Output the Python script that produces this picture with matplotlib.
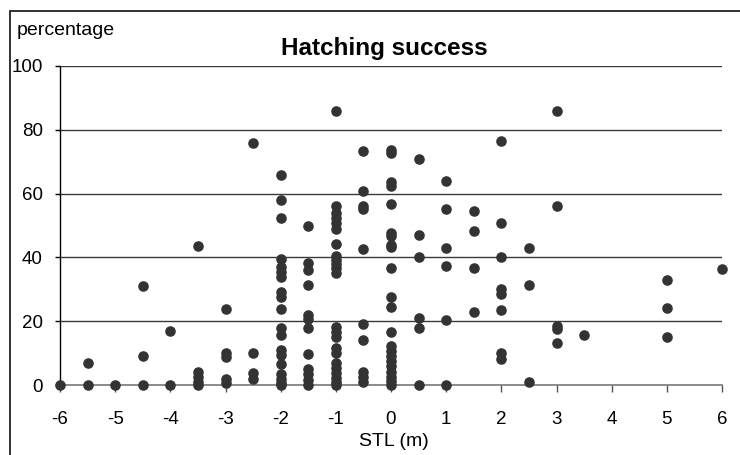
import numpy as np
import matplotlib
matplotlib.use("Agg")
import matplotlib.pyplot as plt
from matplotlib.patches import Rectangle

plt.rcParams['font.family'] = ['Liberation Sans', 'DejaVu Sans']
plt.rcParams['axes.unicode_minus'] = False

# STL positions (m) and the hatching success read at each of them
stl_levels = [-6, -5.5, -5, -4.5, -4, -3.5, -3, -2.5, -2, -1.5, -1, -0.5,
              0, 0.5, 1, 1.5, 2, 2.5, 3, 3.5, 5, 6]
hatch_by_level = [
    [0],
    [6.8, 0],
    [0],
    [31, 9.2, 0],
    [17, 0],
    [43.6, 4.2, 2.6, 1, 0],
    [23.7, 10, 8.7, 1.8, 0.5],
    [76, 9.9, 3.7, 1.8],
    [65.7, 58, 52.2, 39.4, 37, 35.5, 34, 29.3, 27.7, 23.7, 17.8, 15.7,
     11, 9.5, 6.5, 3.5, 2, 0.7, 0],
    [49.8, 38.3, 36, 31.3, 21.9, 20.6, 17.8, 9.8, 5, 3.5, 1.6, 0],
    [86, 56.1, 53.8, 52.2, 50.9, 48.8, 44.1, 40.4, 39.2, 37.9, 36.6, 35,
     18.3, 16.7, 15.1, 11.5, 9.9, 6.8, 5.2, 3.7, 2.1, 0.8, 0],
    [73.4, 60.9, 56.1, 55.1, 42.5, 19, 14.1, 4.2, 2.6, 1],
    [73.7, 72.6, 63.7, 62.4, 56.6, 47.7, 46.7, 43.9, 43.2, 36.8, 27.7, 24.5,
     16.7, 12.2, 10.6, 9, 7.4, 5.8, 4.2, 2.6, 1.2, 0],
    [71, 47, 40.2, 20.9, 17.8, 0],
    [63.8, 55.2, 43.1, 37.3, 20.4, 0],
    [54.5, 48.3, 36.7, 22.8],
    [76.4, 50.8, 40.2, 30.2, 28.4, 23.4, 9.9, 8.3],
    [43.1, 31.3, 1],
    [86, 56.1, 18.5, 17.6, 13.1],
    [15.6],
    [32.9, 24.2, 14.9],
    [36.3],
]

x_ticks = list(range(-6, 7))
y_ticks = [0, 20, 40, 60, 80, 100]

x = np.concatenate([[s] * len(h) for s, h in zip(stl_levels, hatch_by_level)])
y = np.concatenate(hatch_by_level)

fig = plt.figure(figsize=(7.4, 4.55), dpi=100)
ax = fig.add_axes([60 / 740, 1 - 385 / 455, 662 / 740, 319 / 455])

for yv in y_ticks[1:]:
    ax.axhline(yv, color='#3a3a3a', lw=1.0, zorder=1)

ax.plot(x, y, 'o', color='#333333', markersize=6.6, clip_on=False, zorder=3)

ax.set_xlim(-6, 6)
ax.set_ylim(0, 100)
ax.set_xticks(x_ticks)
ax.set_yticks(y_ticks)

for side in ['top', 'right']:
    ax.spines[side].set_visible(False)
ax.spines['left'].set_color('black')
ax.spines['left'].set_linewidth(1.0)
ax.spines['bottom'].set_color('#777777')
ax.spines['bottom'].set_linewidth(1.2)

ax.tick_params(axis='x', direction='out', length=5, width=1, color='#555555',
               pad=14, labelsize=13.5)
ax.tick_params(axis='y', direction='out', length=3.5, width=1, color='black',
               pad=9, labelsize=13.5)

fig.text(17 / 740, 1 - 35 / 455, 'percentage', fontsize=14, ha='left',
         va='baseline')
fig.text(384 / 740, 1 - 55 / 455, 'Hatching success', fontsize=17.5,
         fontweight='bold', ha='center', va='baseline')
fig.text(394 / 740, 1 - 446 / 455, 'STL (m)', fontsize=14, ha='center',
         va='baseline')

# outer chart frame, cut by the picture edge on the right and bottom
fig.patches.append(Rectangle((10 / 740, -0.05), 1.0, 1 - 11 / 455 + 0.05,
                             transform=fig.transFigure, fill=False,
                             edgecolor='#222222', lw=1.3))

fig.savefig('out.png', dpi=100)
